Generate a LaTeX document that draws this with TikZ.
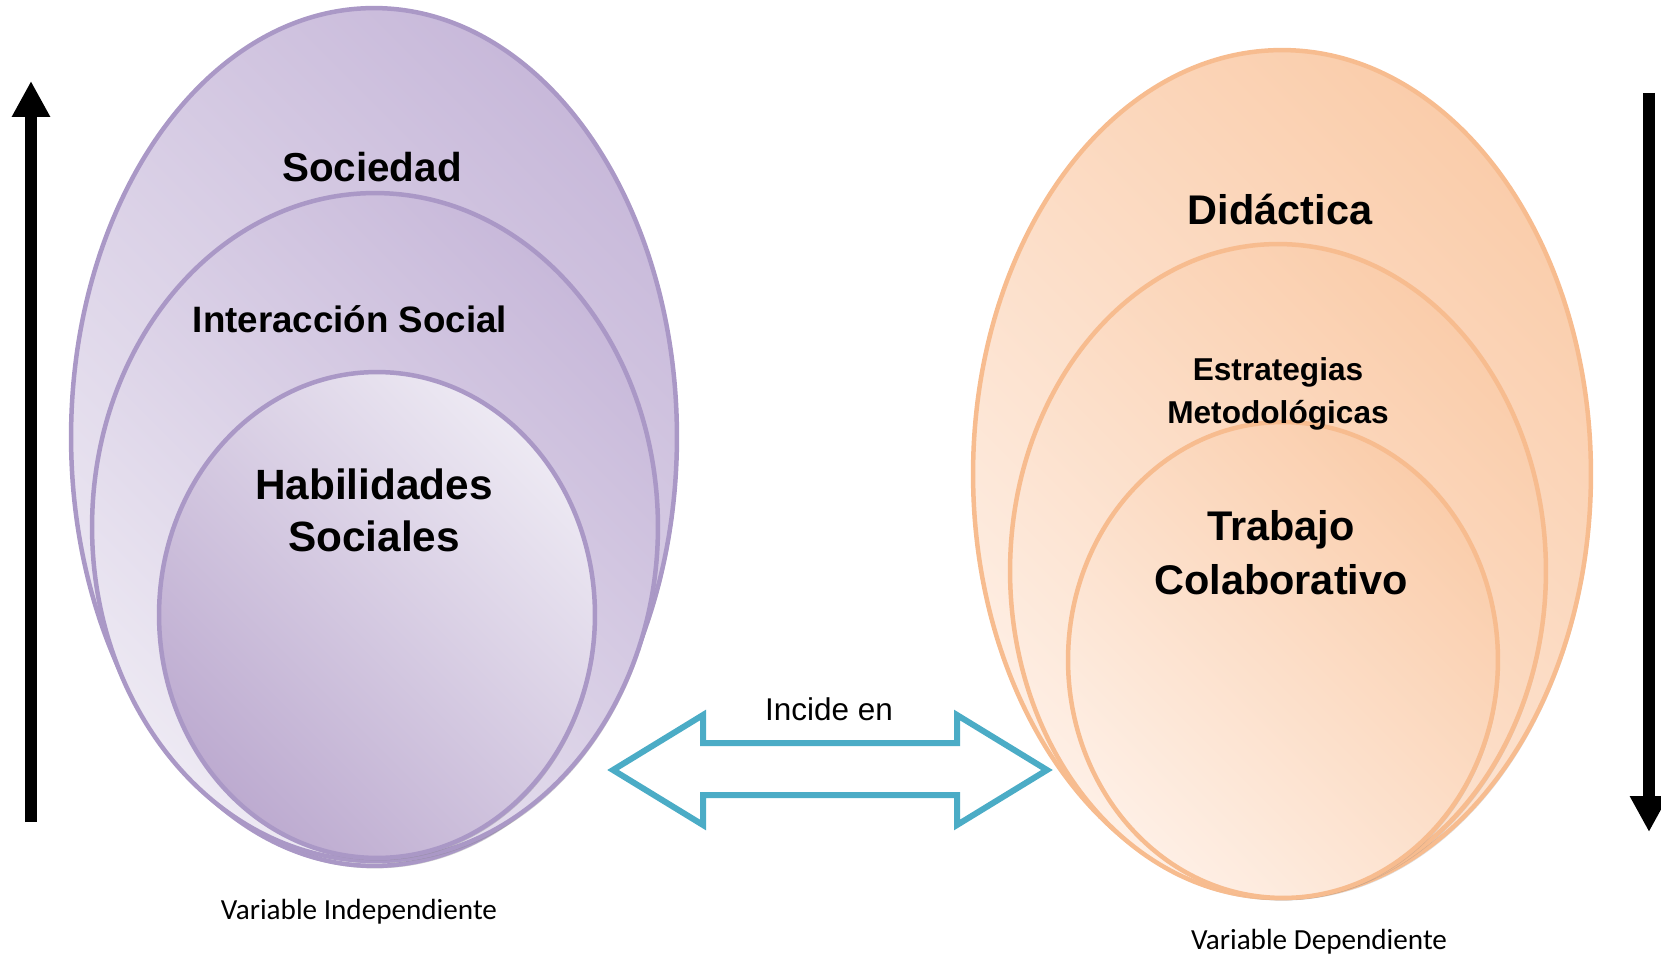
\documentclass[tikz,border=0pt]{standalone}
\usepackage{fontspec}
\setmainfont{Liberation Sans}
\newfontfamily\calibri{Carlito}
\usepackage{xcolor}
\usetikzlibrary{arrows.meta, shapes.geometric, shadows}

\definecolor{lilaBorde}{HTML}{AA98C6}
\definecolor{lilaClaro}{HTML}{EDE9F3}
\definecolor{lilaOscuro}{HTML}{C8B9DA}
\definecolor{lilaFondo}{HTML}{BDABD0}
\definecolor{naranjaBorde}{HTML}{F7BC8F}
\definecolor{naranjaClaro}{HTML}{FEEFE5}
\definecolor{naranjaOscuro}{HTML}{FACDAB}
\definecolor{turquesa}{HTML}{4BACC6}

\begin{document}
\begin{tikzpicture}[x=0.02cm, y=-0.02cm]
		\tikzstyle{lila} = [ellipse, draw=lilaBorde, line width=0.09cm, inner sep=0pt,
			bottom color=lilaClaro, top color=lilaOscuro, shading angle=-45,
			drop shadow={shadow xshift=0.03cm, shadow yshift=-0.05cm, opacity=0.35}]
		\tikzstyle{lilainv} = [lila, bottom color=lilaFondo, top color=lilaClaro, shading angle=-45]
		\tikzstyle{naranja} = [ellipse, draw=naranjaBorde, line width=0.09cm, inner sep=0pt,
			bottom color=naranjaClaro, top color=naranjaOscuro, shading angle=-45,
			drop shadow={shadow xshift=0.03cm, shadow yshift=-0.05cm, opacity=0.25}]
		\tikzstyle{titulo} = [anchor=base, font=\bfseries, align=center]
		\tikzstyle{nota} = [anchor=base, font=\calibri\fontsize{16.6}{20}\selectfont]
		\tikzstyle{flecha} = [line width=0.24cm, -{Triangle[width=0.72cm, length=0.72cm]}]
		\tikzstyle{doble} = [draw=turquesa, line width=0.12cm, line join=miter, fill=white]

		\useasboundingbox (0, 0) rectangle (1661, 959);

		% variable independiente
		\node[lila, minimum width=12.12cm, minimum height=17.16cm]	at (374, 437)	(sociedad)		{};
		\node[lila, minimum width=11.32cm, minimum height=13.36cm]	at (375, 527)	(interaccion)	{};
		\node[lilainv, minimum width=8.72cm, minimum height=9.72cm]	at (377, 615)	(habilidades)	{};

		% variable dependiente
		\node[naranja, minimum width=12.36cm, minimum height=16.96cm]	at (1282, 474)	(didactica)		{};
		\node[naranja, minimum width=10.72cm, minimum height=13.08cm]	at (1278, 571)	(estrategias)	{};
		\node[naranja, minimum width=8.6cm, minimum height=9.52cm]		at (1283, 660)	(trabajo)		{};

		% textos (base = ultima linea)
		\node[titulo, font=\bfseries\fontsize{23}{28}\selectfont]		at (372, 182)	(tSociedad)		{Sociedad};
		\node[titulo, font=\bfseries\fontsize{20.9}{25}\selectfont]		at (350, 333)	(tInteraccion)	{Interacción Social};
		\node[titulo, font=\bfseries\fontsize{24.1}{29.6}\selectfont]	at (374, 552)	(tHabilidades)	{Habilidades\\Sociales};
		\node[titulo, font=\bfseries\fontsize{23.6}{23.6}\selectfont]	at (1280, 225)	(tDidactica)	{Didáctica};
		\node[titulo, font=\bfseries\fontsize{18}{25}\selectfont]		at (1278, 424)	(tEstrategias)	{Estrategias\\Metodológicas};
		\node[titulo, font=\bfseries\fontsize{23.6}{31.3}\selectfont]	at (1281, 595)	(tTrabajo)		{Trabajo\\Colaborativo};
		\node[anchor=base, font=\fontsize{17.9}{22}\selectfont]		at (829, 720)	(incide)		{Incide en};
		\node[nota]		at (359, 919)	(indep)		{Variable Independiente};
		\node[nota]		at (1319, 949)	(dep)		{Variable Dependiente};

		% flechas verticales
		\coordinate (izqAbajo)	at (31, 822);
		\coordinate (izqArriba)	at (31, 81);
		\coordinate (derArriba)	at (1649, 93);
		\coordinate (derAbajo)	at (1649, 832);
		\draw[flecha] (izqAbajo) -- (izqArriba);
		\draw[flecha] (derArriba) -- (derAbajo);

		% flecha doble
		\draw[doble] (613, 770) -- (703, 715) -- (703, 743) -- (957, 743) -- (957, 715)
			-- (1047, 770) -- (957, 825) -- (957, 795) -- (703, 795) -- (703, 825) -- cycle;
	\end{tikzpicture}
\end{document}
